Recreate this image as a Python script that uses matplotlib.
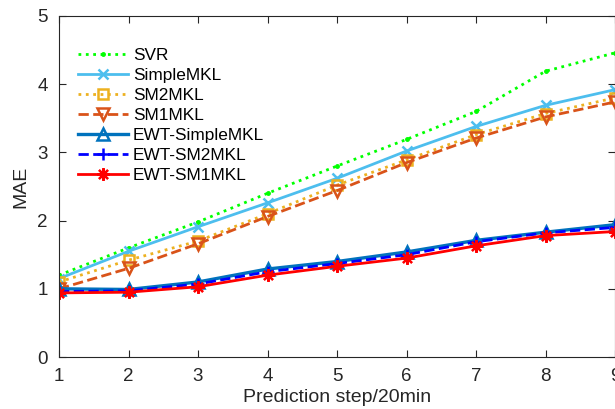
import matplotlib
matplotlib.use("Agg")
import matplotlib.pyplot as plt

steps = [1, 2, 3, 4, 5, 6, 7, 8, 9]
svr = [1.20, 1.60, 1.98, 2.40, 2.80, 3.19, 3.60, 4.19, 4.46]
simplemkl = [1.15, 1.55, 1.91, 2.26, 2.62, 3.02, 3.38, 3.69, 3.92]
sm2mkl = [1.10, 1.42, 1.70, 2.10, 2.52, 2.89, 3.26, 3.57, 3.80]
sm1mkl = [1.00, 1.30, 1.66, 2.06, 2.44, 2.85, 3.21, 3.52, 3.74]
ewt_simplemkl = [1.00, 0.99, 1.10, 1.29, 1.40, 1.54, 1.71, 1.83, 1.94]
ewt_sm2mkl = [0.96, 0.97, 1.07, 1.25, 1.37, 1.50, 1.69, 1.82, 1.90]
ewt_sm1mkl = [0.94, 0.95, 1.03, 1.20, 1.33, 1.45, 1.63, 1.78, 1.84]
labels = ["SVR", "SimpleMKL", "SM2MKL", "SM1MKL", "EWT-SimpleMKL", "EWT-SM2MKL", "EWT-SM1MKL"]

plt.rcParams['font.family'] = ['Liberation Sans', 'DejaVu Sans']

fig = plt.figure(figsize=(6.15, 4.09), dpi=100)
ax = fig.add_axes([59/615, (409-357)/409, 556/615, 341/409])

ax.plot(steps, svr, color='#00FF00', linestyle=':', linewidth=2, marker='.', markersize=5, label=labels[0])
ax.plot(steps, simplemkl, color='#4DBEEE', linestyle='-', linewidth=2, marker='x', markersize=7.5, markeredgewidth=1.8, label=labels[1])
ax.plot(steps, sm2mkl, color='#EDB120', linestyle=':', linewidth=2, marker='s', markersize=7.5, markerfacecolor='none', markeredgewidth=1.8, label=labels[2])
ax.plot(steps, sm1mkl, color='#D95319', linestyle='--', linewidth=2, marker='v', markersize=9, markerfacecolor='none', markeredgewidth=1.8, label=labels[3])
ax.plot(steps, ewt_simplemkl, color='#0072BD', linestyle='-', linewidth=2.4, marker='^', markersize=9, markerfacecolor='none', markeredgewidth=1.8, label=labels[4])
ax.plot(steps, ewt_sm2mkl, color='#0000FF', linestyle='--', linewidth=2, marker='+', markersize=9, markeredgewidth=1.8, label=labels[5])
ax.plot(steps, ewt_sm1mkl, color='#FF0000', linestyle='-', linewidth=2, marker=(8, 2, 0), markersize=9, markeredgewidth=1.6, label=labels[6])

ax.set_xlim(1, 9)
ax.set_ylim(0, 5)
ax.set_xticks(steps)
ax.set_yticks([0, 1, 2, 3, 4, 5])
ax.tick_params(direction='in', top=True, right=True, labelsize=13.5, colors='#262626', length=5, pad=8)
for s in ax.spines.values():
    s.set_color('#262626')
    s.set_linewidth(0.8)
ax.set_xlabel('Prediction step/20min', fontsize=14, color='#262626', labelpad=3)
ax.set_ylabel('MAE', fontsize=14, color='#262626', labelpad=6)

ax.legend(loc='upper left', bbox_to_anchor=(0.034, 0.906), frameon=False, fontsize=12.4,
          borderpad=0, borderaxespad=0, handlelength=2.9, handletextpad=0.3, labelspacing=0.29)

fig.savefig('out.png', dpi=100)
